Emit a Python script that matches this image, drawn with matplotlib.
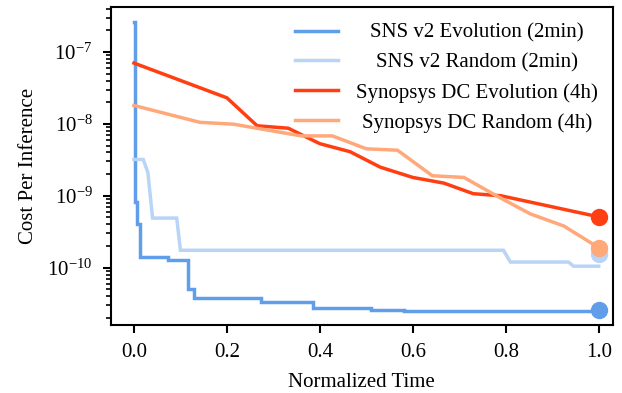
import matplotlib
matplotlib.use("Agg")
import matplotlib.pyplot as plt
from matplotlib.offsetbox import VPacker
from matplotlib.ticker import NullFormatter

plt.rcParams['font.family'] = ['Liberation Serif', 'DejaVu Serif']
plt.rcParams['mathtext.fontset'] = 'stix'

# --- data ---
sns_evo_x = [0.0, 0.003, 0.003, 0.006, 0.006, 0.013, 0.013, 0.073, 0.073, 0.116, 0.116,
             0.13, 0.13, 0.274, 0.274, 0.386, 0.386, 0.51, 0.51, 0.58, 0.58, 1.0]
sns_evo_y = [2.6e-7, 2.6e-7, 8.3e-10, 8.3e-10, 4.0e-10, 4.0e-10, 1.4e-10, 1.4e-10, 1.3e-10,
             1.3e-10, 5.1e-11, 5.1e-11, 3.8e-11, 3.8e-11, 3.3e-11, 3.3e-11, 2.8e-11, 2.8e-11,
             2.6e-11, 2.6e-11, 2.5e-11, 2.5e-11]
sns_rand_x = [0.0, 0.02, 0.03, 0.04, 0.092, 0.1, 0.795, 0.81, 0.935, 0.946, 1.0]
sns_rand_y = [3.2e-9, 3.2e-9, 2.1e-9, 4.9e-10, 4.9e-10, 1.75e-10, 1.75e-10, 1.2e-10,
              1.2e-10, 1.05e-10, 1.05e-10]
dc_evo_x = [0.0, 0.2, 0.265, 0.332, 0.40, 0.465, 0.53, 0.60, 0.667, 0.73, 0.79, 1.0]
dc_evo_y = [7.0e-8, 2.3e-8, 9.4e-9, 8.7e-9, 5.3e-9, 4.1e-9, 2.5e-9, 1.8e-9, 1.5e-9,
            1.07e-9, 1.0e-9, 5.1e-10]
dc_rand_x = [0.0, 0.142, 0.214, 0.278, 0.36, 0.427, 0.50, 0.567, 0.642, 0.71, 0.78,
             0.853, 0.925, 1.0]
dc_rand_y = [1.8e-8, 1.05e-8, 9.9e-9, 8.4e-9, 6.8e-9, 6.8e-9, 4.5e-9, 4.3e-9, 1.9e-9,
             1.8e-9, 1.0e-9, 5.6e-10, 3.8e-10, 1.9e-10]
final_x = [1.0, 1.0, 1.0, 1.0]
final_y = [2.6e-11, 1.55e-10, 5.1e-10, 1.9e-10]

labels = ['SNS v2 Evolution (2min)', 'SNS v2 Random (2min)',
          'Synopsys DC Evolution (4h)', 'Synopsys DC Random (4h)']
colors = ['#619eea', '#b8d4f6', '#ff3f12', '#ffa87a']
x_ticks = [0.0, 0.2, 0.4, 0.6, 0.8, 1.0]
y_ticks = [1e-10, 1e-9, 1e-8, 1e-7]

series = [(sns_evo_x, sns_evo_y), (sns_rand_x, sns_rand_y),
          (dc_evo_x, dc_evo_y), (dc_rand_x, dc_rand_y)]

FS = 15
YLIM = (1.6e-11, 4.2e-7)

fig = plt.figure(figsize=(6.22, 3.93), dpi=100)
ax = fig.add_axes([0.178, 0.173, 0.807, 0.809])

handles = []
for (xs, ys), c, lab in zip(series, colors, labels):
    h, = ax.plot(xs, ys, color=c, lw=2.5, label=lab, solid_joinstyle='miter')
    handles.append(h)
order = [1, 3, 2, 0]
for i in order:
    ax.plot([final_x[i]], [final_y[i]], 'o', color=colors[i], ms=11.5, clip_on=False, zorder=3)

ax.set_yscale('log')
ax.set_ylim(*YLIM)
ax.set_xlim(-0.05, 1.03)
ax.set_xticks(x_ticks)
ax.set_yticks(y_ticks)
minor = [k * 10.0 ** d for d in range(-12, -6) for k in range(2, 10)]
minor = [m for m in minor if YLIM[0] <= m <= YLIM[1]]
ax.set_yticks(minor, minor=True)
ax.yaxis.set_minor_formatter(NullFormatter())
ax.set_xlabel('Normalized Time', fontsize=FS, labelpad=8)
ax.set_ylabel('Cost Per Inference', fontsize=FS, labelpad=7)
ax.tick_params(axis='both', which='major', labelsize=FS, width=1.5, length=5.5, pad=7.5)
ax.tick_params(axis='y', which='minor', width=1.2, length=3.5)
for s in ax.spines.values():
    s.set_linewidth(1.5)

leg = ax.legend(handles=handles, loc='upper right', frameon=False, fontsize=FS,
                handlelength=2.1, handletextpad=0.85, labelspacing=0.49,
                bbox_to_anchor=(1.008, 1.008))
# center the texts inside their column
renderer = fig.canvas.get_renderer()
widths = [t.get_window_extent(renderer).width for t in leg.get_texts()]
W = max(widths)
for col in leg._legend_handle_box.get_children():
    for row in col.get_children():
        kids = row.get_children()
        ta = kids[1]
        row._children[1] = VPacker(children=[ta], align='center', width=W, pad=0, sep=0)

fig.savefig('out.png', dpi=100)
